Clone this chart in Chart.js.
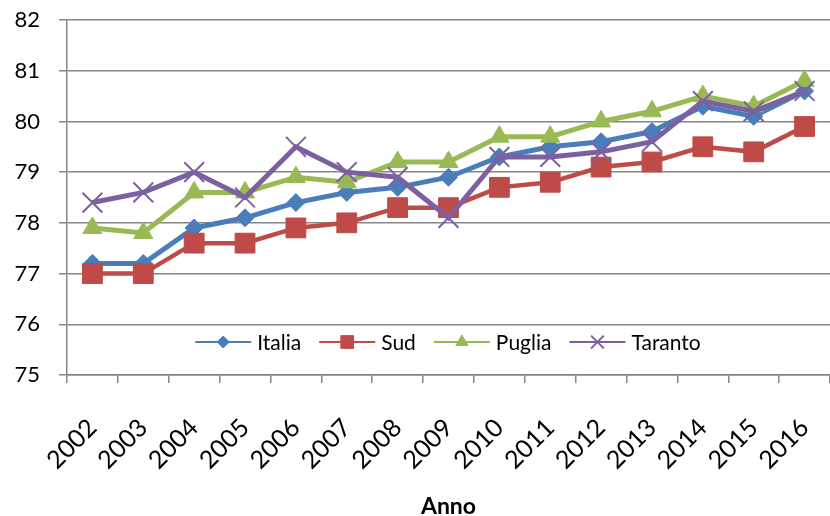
<!DOCTYPE html>
<html>
<head>
<meta charset="utf-8">
<script src="https://cdn.jsdelivr.net/npm/chart.js@4/dist/chart.umd.min.js"></script>
<style>
html,body{margin:0;padding:0;background:#fff;}
#wrap{width:830px;height:516px;position:relative;}
</style>
</head>
<body>
<div id="wrap"><canvas id="c" width="830" height="516"></canvas></div>
<script>
const years = ['2002','2003','2004','2005','2006','2007','2008','2009','2010','2011','2012','2013','2014','2015','2016'];
const italia  = [77.2,77.2,77.9,78.1,78.4,78.6,78.7,78.9,79.3,79.5,79.6,79.8,80.3,80.1,80.6];
const sud     = [77.0,77.0,77.6,77.6,77.9,78.0,78.3,78.3,78.7,78.8,79.1,79.2,79.5,79.4,79.9];
const puglia  = [77.9,77.8,78.6,78.6,78.9,78.8,79.2,79.2,79.7,79.7,80.0,80.2,80.5,80.3,80.8];
const taranto = [78.4,78.6,79.0,78.5,79.5,79.0,78.9,78.1,79.3,79.3,79.4,79.6,80.4,80.2,80.6];
const seriesNames = ['Italia','Sud','Puglia','Taranto'];
const yTicks = [75,76,77,78,79,80,81,82];
const xTitle = 'Anno';

const FONT = 'Lato, "Open Sans", sans-serif';

const insideLegend = {
  id: 'insideLegend',
  afterDraw(chart) {
    const ctx = chart.ctx;
    const y = 342;
    const lineLen = 56, gapText = 6, gapItem = 18;
    ctx.save();
    ctx.font = '21px ' + FONT;
    const items = chart.data.datasets.map(ds => ({ds, w: lineLen + gapText + ctx.measureText(ds.label).width}));
    const total = items.reduce((s, it) => s + it.w, 0) + gapItem * (items.length - 1);
    let x = 448 - total / 2;
    items.forEach(it => {
      const ds = it.ds;
      ctx.strokeStyle = ds.borderColor;
      ctx.lineWidth = 2;
      ctx.beginPath();
      ctx.moveTo(x, y);
      ctx.lineTo(x + lineLen, y);
      ctx.stroke();
      ctx.fillStyle = ds.borderColor;
      ctx.strokeStyle = ds.borderColor;
      ctx.lineWidth = ds.pointBorderWidth;
      Chart.helpers.drawPoint(ctx, {
        pointStyle: ds.pointStyle,
        radius: ds.legendRadius,
        borderWidth: ds.pointBorderWidth,
        rotation: 0
      }, x + lineLen / 2, y);
      ctx.fillStyle = '#000';
      ctx.textBaseline = 'middle';
      ctx.textAlign = 'left';
      ctx.fillText(ds.label, x + lineLen + gapText, y + 1);
      x += it.w + gapItem;
    });
    ctx.restore();
  }
};

const mk = (label, data, color, style, radius, legendRadius, bw, order) => ({
  label, data,
  borderColor: color, backgroundColor: color,
  pointBackgroundColor: color, pointBorderColor: color,
  pointStyle: style, pointRadius: radius, pointHoverRadius: radius,
  pointBorderWidth: style === 'crossRot' ? 2 : 1,
  borderWidth: bw, tension: 0, legendRadius, order
});

const datasets = [
  mk(seriesNames[0], italia,  '#4A7EBB', 'rectRot', 9, 6, 5, 4),
  mk(seriesNames[1], sud,     '#BE4B48', 'rect', 14, 9, 4.5, 3),
  mk(seriesNames[2], puglia,  '#98B954', 'triangle', 11, 7, 5, 2),
  mk(seriesNames[3], taranto, '#7D60A0', 'crossRot', 14, 9, 5, 1)
];

new Chart(document.getElementById('c'), {
  type: 'line',
  data: { labels: years, datasets },
  options: {
    responsive: false,
    animation: false,
    layout: { autoPadding: false, padding: { left: 0, top: 20, right: 0, bottom: 0 } },
    plugins: { legend: { display: false }, tooltip: { enabled: false } },
    scales: {
      x: {
        offset: true,
        afterFit(axis) { axis.height = 141; axis.paddingLeft = 0; axis.paddingRight = 0; },
        grid: { offset: true, drawOnChartArea: false, tickLength: 8, color: '#868686', lineWidth: 1.5 },
        border: { display: true, color: '#868686', width: 1.5 },
        ticks: { minRotation: 45, maxRotation: 45, autoSkip: false, color: '#000', font: { family: FONT, size: 25 }, padding: 30 },
        title: { display: true, text: xTitle, color: '#000', font: { family: FONT, size: 23, weight: 'bold' }, padding: { top: 10, bottom: -4 } }
      },
      y: {
        min: 75, max: 82,
        afterFit(axis) { axis.width = 67; axis.paddingTop = 0; axis.paddingBottom = 0; },
        afterBuildTicks(axis) { axis.ticks = yTicks.map(v => ({ value: v })); },
        grid: { color: '#868686', lineWidth: 1.5, tickLength: 8 },
        border: { display: true, color: '#868686', width: 1.5 },
        ticks: { color: '#000', font: { family: FONT, size: 22 }, padding: 19 }
      }
    }
  },
  plugins: [insideLegend]
});
</script>
</body>
</html>
